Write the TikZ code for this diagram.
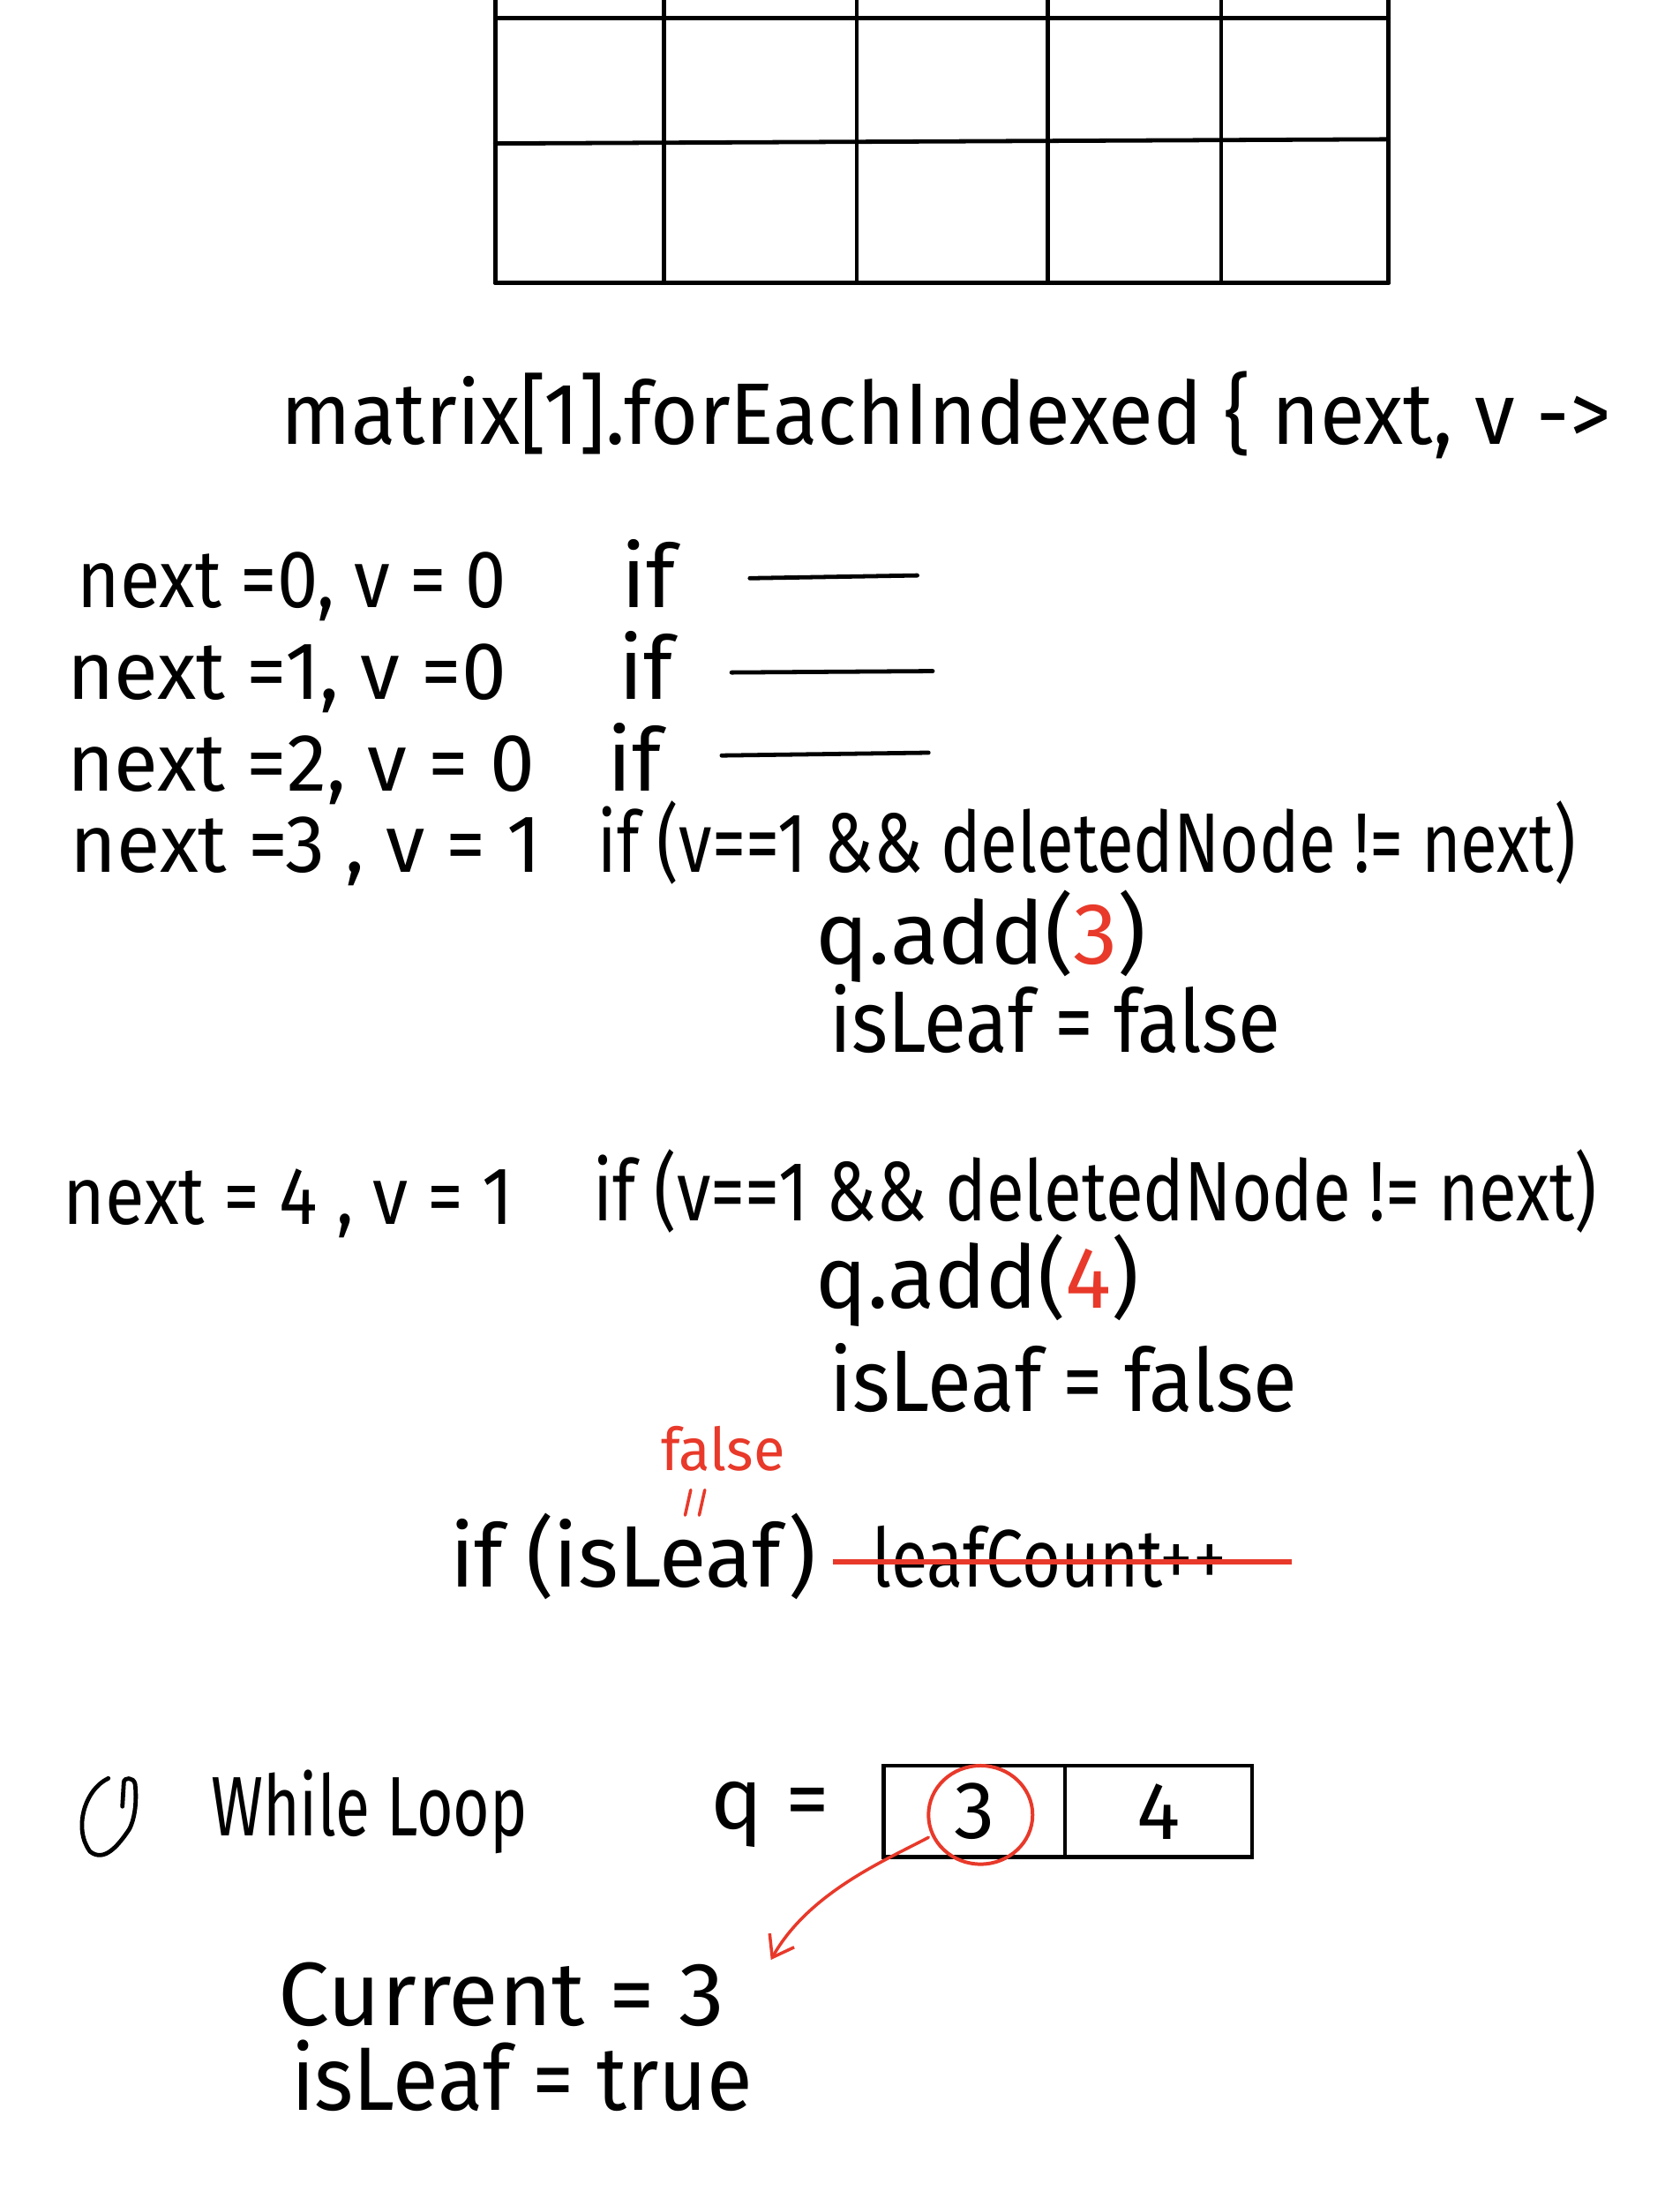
\documentclass[tikz,border=0pt]{standalone}
\usepackage{fontspec}
\usepackage{graphicx}
\usetikzlibrary{shapes.geometric,arrows.meta}
\newfontfamily\hand{Fira Sans}
\definecolor{redink}{HTML}{E8392A}
\tikzset{
  txt/.style={anchor=base west, inner sep=0pt, outer sep=0pt},
  ink/.style={line width=3pt, line cap=round, line join=round},
  redink line/.style={draw=redink, line width=2.2pt, line cap=round, line join=round},
  cellbox/.style={draw, line width=3pt, inner sep=0pt, minimum height=65pt},
}
\newcommand\hw[3]{\resizebox{#1pt}{\height}{\fontsize{#2}{#2}\selectfont\hand #3}}
\newcommand\hn[2]{{\fontsize{#1}{#1}\selectfont\hand #2}}
\begin{document}
\begin{tikzpicture}[x=1pt,y=-1pt]
\useasboundingbox (0,0) rectangle (1194,1568);
\fill[white] (0,0) rectangle (1194,1568);

% grid
\foreach \gx in {352,472,609,745,868,987}
  \draw[ink] (\gx,0) -- (\gx,201);
\draw[ink] (352,13) -- (987,13);
\draw[ink] (352,102) -- (987,99);
\draw[ink] (352,201) -- (987,201);

% header
\node[txt] (hdr) at (200,316) {\hw{945}{62}{matrix[1].forEachIndexed \{ next, v ->}};

% rows
\node[txt] (r1) at (55,432) {\hw{305}{58}{next =0, v = 0}};
\node[txt] (i1) at (442,432) {\hn{62}{if}};
\coordinate (l1a) at (533,411); \coordinate (l1b) at (652,409);
\draw[ink] (l1a) -- (l1b);

\node[txt] (r2) at (48,497) {\hw{312}{58}{next =1, v =0}};
\node[txt] (i2) at (440,497) {\hn{62}{if}};
\coordinate (l2a) at (520,478); \coordinate (l2b) at (663,477);
\draw[ink] (l2a) -- (l2b);

\node[txt] (r3) at (48,562) {\hw{332}{58}{next =2, v = 0}};
\node[txt] (i3) at (432,562) {\hn{62}{if}};
\coordinate (l3a) at (513,537); \coordinate (l3b) at (660,535);
\draw[ink] (l3a) -- (l3b);

\node[txt] (r4) at (50,620) {\hw{335}{58}{next =3 , v = 1}};
\node[txt] (i4) at (425,620) {\hw{695}{60}{if (v==1 \&\& deletedNode != next)}};
\node[txt] (qa3) at (580,685) {\hw{235}{62}{q.add(\textcolor{redink}{3})}};
\node[txt] (lf1) at (590,748) {\hw{320}{62}{isLeaf = false}};

\node[txt] (r7) at (45,870) {\hw{320}{58}{next = 4 , v = 1}};
\node[txt] (i7) at (422,868) {\hw{713}{60}{if (v==1 \&\& deletedNode != next)}};
\node[txt] (qa4) at (580,930) {\hw{230}{62}{q.add(\textcolor{redink}{4})}};
\node[txt] (lf2) at (590,1003) {\hw{332}{62}{isLeaf = false}};

% red false annotation
\node[txt, text=redink] (fls) at (470,1045) {\hw{88}{42}{false}};
\draw[redink line] (491,1059) -- (487,1077);
\draw[redink line] (501,1059) -- (497,1077);

\node[txt] (ifl) at (320,1128) {\hw{260}{62}{if (isLeaf)}};
\node[txt] (lc) at (620,1128) {\hw{252}{58}{leafCount++}};
\draw[draw=redink, line width=3.5pt] (lc.west |- 0,1110) ++(-28,0) coordinate (sa) -- (918,1110) coordinate (sb);

% while loop icon
\draw[ink] (77,1264) .. controls (60,1272) and (52,1300) .. (64,1316)
           .. controls (74,1324) and (84,1312) .. (92,1300)
           .. controls (97,1290) and (97,1276) .. (96,1268)
           .. controls (95,1263) and (88,1263) .. (88,1267)
           -- (87,1284);
\node[txt] (wl) at (150,1305) {\hw{225}{60}{While Loop}};

\node[txt] (qeq) at (505,1300) {\hw{85}{62}{q =}};
\node[cellbox, minimum width=129pt] (cellA) at (692.5,1287.5) {\hn{58}{3}};
\node[cellbox, minimum width=133pt] (cellB) at (823.5,1287.5) {\hn{58}{4}};
\node[draw=redink, line width=2.5pt, ellipse, minimum width=74pt, minimum height=70pt, inner sep=0pt] (c3) at (697,1290) {};

\coordinate (astart) at (660,1306);
\coordinate (atip) at (548,1393);
\draw[redink line, -{Straight Barb[length=14pt,width=20pt,line width=2.2pt]}]
  (astart) .. controls (630,1322) and (575,1345) .. (atip);

\node[txt] (cur) at (198,1440) {\hw{317}{64}{Current = 3}};
\node[txt] (ilt) at (207,1500) {\hw{328}{64}{isLeaf = true}};
\end{tikzpicture}
\end{document}
